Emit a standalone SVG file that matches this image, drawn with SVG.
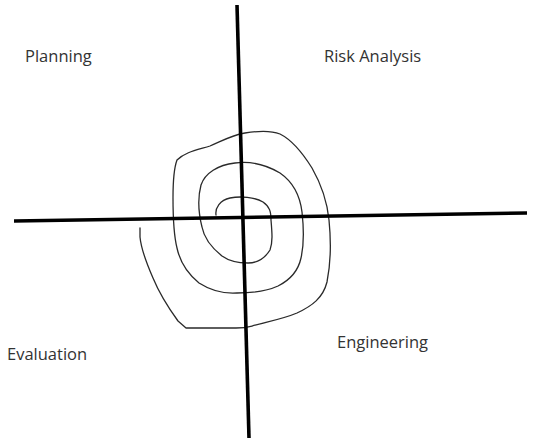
<svg xmlns="http://www.w3.org/2000/svg" width="533" height="438" viewBox="0 0 533 438">
<style>
.axis{stroke:#000;stroke-width:3.6;stroke-linecap:butt;fill:none}
.spiral{stroke:#2a2a2a;stroke-width:1.3;fill:none;stroke-linejoin:round;stroke-linecap:round}
.lbl{font-family:"Open Sans","Liberation Sans",sans-serif;font-size:16.5px;fill:#333}
</style>
<rect width="533" height="438" fill="#fff"/>
<g id="connectors">
<path class="spiral" d="M216,215 C215,208 220,200 230,198 C240,196 255,197 263,202 C270,207 271,212 271,220 C272,232 273,242 270,250 C265,258 258,263 248,263 C238,263 229,261 222,256 C212,248 204,238 202,227 C199,215 197,200 201,185 C205,173 218,165 235,163 C250,161 265,164 280,173 C293,182 300,196 302,212 C304,230 304,245 301,258 C298,272 290,280 278,286 C265,292 250,293 237,293 C222,294 210,290 199,283 C188,274 180,262 177,248 C173,232 173,215 173,198 C173,182 174,168 177,160 C185,152 197,150 210,146 C222,141 232,135 245,133 C257,131 270,130 280,134 C292,140 302,152 312,168 C320,182 327,200 329,220 C331,240 331,262 327,282 C323,298 312,306 297,313 C283,319 266,322 252,326 C245,328 240,328 236,328 L186,328 L178,321 C170,310 160,295 153,278 C146,262 141,248 140,237 L140,228"/>
</g>
<g id="axes">
<path class="axis" d="M237,5 L249,438"/>
<path class="axis" d="M14,221 L527,213"/>
</g>
<g id="planning"><text class="lbl" x="25" y="62">Planning</text></g>
<g id="risk"><text class="lbl" x="324" y="62">Risk Analysis</text></g>
<g id="evaluation"><text class="lbl" x="7" y="360">Evaluation</text></g>
<g id="engineering"><text class="lbl" x="337" y="348">Engineering</text></g>
</svg>
